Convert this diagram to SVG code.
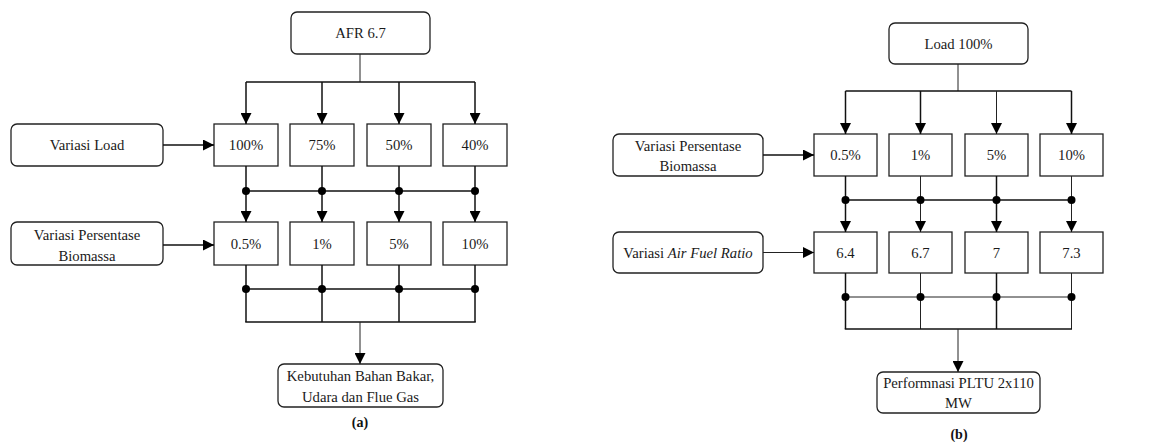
<svg xmlns="http://www.w3.org/2000/svg" width="1159" height="442" viewBox="0 0 1159 442">
<style>
  .bg{fill:#ffffff}
  .n{fill:#ffffff;stroke:#222;stroke-width:1.3}
  .t{font-family:"Liberation Serif","Times New Roman",serif;font-size:14.7px;fill:#1a1a1a;text-anchor:middle;dominant-baseline:central}
  .cap{font-family:"Liberation Serif","Times New Roman",serif;font-size:14px;font-weight:bold;fill:#111;text-anchor:middle}
  .c{fill:none;stroke:#111;stroke-width:1.5}
  .th{fill:none;stroke:#222;stroke-width:1}
  .dot{fill:#000}
</style>
<defs>
  <marker id="arr" markerUnits="userSpaceOnUse" markerWidth="11" markerHeight="11" refX="11" refY="5.5" orient="auto">
    <path d="M0,0 L11,5.5 L0,11 z" fill="#000"/>
  </marker>
</defs>
<rect class="bg" width="1159" height="442"/>

<!-- ========== (a) ========== -->
<g id="a-afr"><rect class="n" x="291" y="12" width="139" height="42" rx="6"/><text class="t" x="360.5" y="33">AFR 6.7</text></g>
<g id="a-load"><rect class="n" x="11" y="124" width="152" height="42" rx="6"/><text class="t" x="87" y="145">Variasi Load</text></g>
<g id="a-l100"><rect class="n" x="214" y="124" width="64" height="42"/><text class="t" x="246" y="145">100%</text></g>
<g id="a-l75"><rect class="n" x="290" y="124" width="64" height="42"/><text class="t" x="322" y="145">75%</text></g>
<g id="a-l50"><rect class="n" x="367" y="124" width="64" height="42"/><text class="t" x="399" y="145">50%</text></g>
<g id="a-l40"><rect class="n" x="443" y="124" width="64" height="42"/><text class="t" x="475" y="145">40%</text></g>
<g id="a-bio"><rect class="n" x="11" y="222" width="152" height="43" rx="6"/><text class="t" x="87" y="234.5">Variasi Persentase</text><text class="t" x="87" y="255.5">Biomassa</text></g>
<g id="a-b05"><rect class="n" x="214" y="222" width="64" height="43"/><text class="t" x="246" y="243.5">0.5%</text></g>
<g id="a-b1"><rect class="n" x="290" y="222" width="64" height="43"/><text class="t" x="322" y="243.5">1%</text></g>
<g id="a-b5"><rect class="n" x="367" y="222" width="64" height="43"/><text class="t" x="399" y="243.5">5%</text></g>
<g id="a-b10"><rect class="n" x="443" y="222" width="64" height="43"/><text class="t" x="475" y="243.5">10%</text></g>
<g id="a-out"><rect class="n" x="278" y="364" width="165" height="43" rx="6"/><text class="t" x="360.5" y="375.5">Kebutuhan Bahan Bakar,</text><text class="t" x="360.5" y="396.5">Udara dan Flue Gas</text></g>
<text class="cap" x="360" y="427">(a)</text>

<!-- ========== (b) ========== -->
<g id="b-load"><rect class="n" x="889" y="23" width="139" height="41" rx="6"/><text class="t" x="958.5" y="43.5">Load 100%</text></g>
<g id="b-bio"><rect class="n" x="613" y="134" width="150" height="42" rx="6"/><text class="t" x="688" y="145.5">Variasi Persentase</text><text class="t" x="688" y="165.5">Biomassa</text></g>
<g id="b-b05"><rect class="n" x="814" y="134" width="63" height="42"/><text class="t" x="845.5" y="155">0.5%</text></g>
<g id="b-b1"><rect class="n" x="889" y="134" width="63" height="42"/><text class="t" x="920.5" y="155">1%</text></g>
<g id="b-b5"><rect class="n" x="965" y="134" width="63" height="42"/><text class="t" x="996.5" y="155">5%</text></g>
<g id="b-b10"><rect class="n" x="1040" y="134" width="63" height="42"/><text class="t" x="1071.5" y="155">10%</text></g>
<g id="b-afr"><rect class="n" x="613" y="232" width="150" height="41" rx="6"/><text class="t" x="688" y="252.5">Variasi <tspan font-style="italic">Air Fuel Ratio</tspan></text></g>
<g id="b-a64"><rect class="n" x="814" y="232" width="63" height="41"/><text class="t" x="845.5" y="252.5">6.4</text></g>
<g id="b-a67"><rect class="n" x="889" y="232" width="63" height="41"/><text class="t" x="920.5" y="252.5">6.7</text></g>
<g id="b-a7"><rect class="n" x="965" y="232" width="63" height="41"/><text class="t" x="996.5" y="252.5">7</text></g>
<g id="b-a73"><rect class="n" x="1040" y="232" width="63" height="41"/><text class="t" x="1071.5" y="252.5">7.3</text></g>
<g id="b-out"><rect class="n" x="877" y="372" width="163" height="41" rx="6"/><text class="t" x="958.5" y="382.5">Performnasi PLTU 2x110</text><text class="t" x="958.5" y="403">MW</text></g>
<text class="cap" x="959" y="439">(b)</text>

<!-- ========== connectors ========== -->
<g id="connectors">
  <!-- (a) top fan-out -->
  <line class="th" x1="360" y1="54" x2="360" y2="82"/>
  <line class="c" x1="246" y1="82" x2="475" y2="82"/>
  <line class="c" x1="246" y1="82" x2="246" y2="124" marker-end="url(#arr)"/>
  <line class="c" x1="322" y1="82" x2="322" y2="124" marker-end="url(#arr)"/>
  <line class="c" x1="399" y1="82" x2="399" y2="124" marker-end="url(#arr)"/>
  <line class="c" x1="475" y1="82" x2="475" y2="124" marker-end="url(#arr)"/>
  <line class="c" x1="163" y1="145" x2="214" y2="145" marker-end="url(#arr)"/>
  <!-- (a) middle -->
  <line class="c" x1="246" y1="191" x2="475" y2="191"/>
  <line class="c" x1="246" y1="166" x2="246" y2="222" marker-end="url(#arr)"/>
  <line class="c" x1="322" y1="166" x2="322" y2="222" marker-end="url(#arr)"/>
  <line class="c" x1="399" y1="166" x2="399" y2="222" marker-end="url(#arr)"/>
  <line class="c" x1="475" y1="166" x2="475" y2="222" marker-end="url(#arr)"/>
  <circle class="dot" cx="246" cy="191" r="4"/><circle class="dot" cx="322" cy="191" r="4"/>
  <circle class="dot" cx="399" cy="191" r="4"/><circle class="dot" cx="475" cy="191" r="4"/>
  <line class="c" x1="163" y1="245" x2="214" y2="245" marker-end="url(#arr)"/>
  <!-- (a) bottom -->
  <line class="c" x1="246" y1="289" x2="475" y2="289"/>
  <line class="c" x1="246" y1="265" x2="246" y2="322"/>
  <line class="c" x1="322" y1="265" x2="322" y2="322"/>
  <line class="c" x1="399" y1="265" x2="399" y2="322"/>
  <line class="c" x1="475" y1="265" x2="475" y2="322"/>
  <line class="c" x1="245.25" y1="322" x2="475.75" y2="322"/>
  <circle class="dot" cx="246" cy="289" r="4"/><circle class="dot" cx="322" cy="289" r="4"/>
  <circle class="dot" cx="399" cy="289" r="4"/><circle class="dot" cx="475" cy="289" r="4"/>
  <line class="th" x1="360" y1="322" x2="360" y2="364" marker-end="url(#arr)"/>

  <!-- (b) top fan-out -->
  <line class="th" x1="958" y1="64" x2="958" y2="91"/>
  <line class="c" x1="845.5" y1="91" x2="1071.5" y2="91"/>
  <line class="c" x1="845.5" y1="91" x2="845.5" y2="134" marker-end="url(#arr)"/>
  <line class="c" x1="920.5" y1="91" x2="920.5" y2="134" marker-end="url(#arr)"/>
  <line class="th" x1="996.5" y1="91" x2="996.5" y2="134" marker-end="url(#arr)"/>
  <line class="c" x1="1071.5" y1="91" x2="1071.5" y2="134" marker-end="url(#arr)"/>
  <line class="c" x1="763" y1="155" x2="814" y2="155" marker-end="url(#arr)"/>
  <!-- (b) middle -->
  <line class="c" x1="845.5" y1="200" x2="1071.5" y2="200"/>
  <line class="c" x1="845.5" y1="176" x2="845.5" y2="232" marker-end="url(#arr)"/>
  <line class="th" x1="920.5" y1="176" x2="920.5" y2="232" marker-end="url(#arr)"/>
  <line class="c" x1="996.5" y1="176" x2="996.5" y2="232" marker-end="url(#arr)"/>
  <line class="th" x1="1071.5" y1="176" x2="1071.5" y2="232" marker-end="url(#arr)"/>
  <circle class="dot" cx="845.5" cy="200" r="4"/><circle class="dot" cx="920.5" cy="200" r="4"/>
  <circle class="dot" cx="996.5" cy="200" r="4"/><circle class="dot" cx="1071.5" cy="200" r="4"/>
  <line class="th" x1="763" y1="252.5" x2="814" y2="252.5" marker-end="url(#arr)"/>
  <!-- (b) bottom -->
  <line class="th" x1="845.5" y1="297" x2="1071.5" y2="297"/>
  <line class="c" x1="845.5" y1="273" x2="845.5" y2="329"/>
  <line class="th" x1="920.5" y1="273" x2="920.5" y2="329"/>
  <line class="c" x1="996.5" y1="273" x2="996.5" y2="329"/>
  <line class="th" x1="1071.5" y1="273" x2="1071.5" y2="329"/>
  <line class="c" x1="844.75" y1="329" x2="1072" y2="329"/>
  <circle class="dot" cx="845.5" cy="297" r="4"/><circle class="dot" cx="920.5" cy="297" r="4"/>
  <circle class="dot" cx="996.5" cy="297" r="4"/><circle class="dot" cx="1071.5" cy="297" r="4"/>
  <line class="th" x1="958" y1="329" x2="958" y2="372" marker-end="url(#arr)"/>
</g>
</svg>
